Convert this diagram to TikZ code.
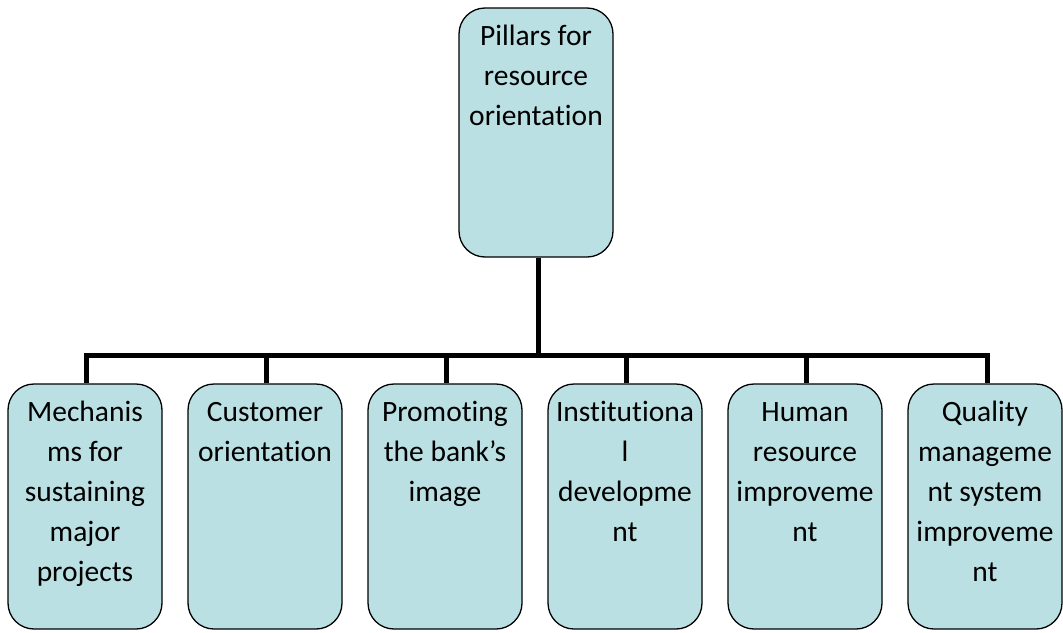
\documentclass[tikz,border=0pt]{standalone}
\usepackage{fontspec}
\setmainfont[Ligatures={NoCommon}]{Carlito}
\definecolor{boxfill}{RGB}{187,224,227}
% text block set from the top of a box, first baseline 37pt below its top edge
\newcommand\pillartext[2]{\parbox[t][#1][t]{150pt}{\centering\fontsize{29.5pt}{40pt}\selectfont\rule{0pt}{37pt}#2}}
\begin{document}
\begin{tikzpicture}[x=1pt,y=-1pt,
  pillar/.style={draw=black, line width=1.3pt, fill=boxfill, rounded corners=26pt,
    inner sep=0pt, minimum width=154pt, text=black},
  link/.style={draw=black, line width=5pt, line join=miter}]
\useasboundingbox (0,0) rectangle (1063,632);

% root box
\node[pillar, minimum height=249pt] (root) at (536,132.5)
  {\pillartext{249pt}{Pillars for\\resource\\orientation}};

% six pillars
\node[pillar, minimum height=245pt] (p1) at (85,506.5)
  {\pillartext{245pt}{Mechanis\\ms for\\sustaining\\major\\projects}};
\node[pillar, minimum height=245pt] (p2) at (265,506.5)
  {\pillartext{245pt}{Customer\\orientation}};
\node[pillar, minimum height=245pt] (p3) at (445,506.5)
  {\pillartext{245pt}{Promoting\\the bank’s\\image}};
\node[pillar, minimum height=245pt] (p4) at (625,506.5)
  {\pillartext{245pt}{Institutiona\\l\\developme\\nt}};
\node[pillar, minimum height=245pt] (p5) at (805,506.5)
  {\pillartext{245pt}{Human\\resource\\improveme\\nt}};
\node[pillar, minimum height=245pt] (p6) at (985,506.5)
  {\pillartext{245pt}{Quality\\manageme\\nt system\\improveme\\nt}};

% bus line
\coordinate (bus) at (536,355);
\draw[link] ([xshift=1pt]p1.north) -- ([xshift=1pt]p1.north |- bus)
  -- ([xshift=2pt]p6.north |- bus) -- ([xshift=2pt]p6.north);
\draw[link] ([xshift=2pt]root.south) -- ([xshift=2pt]root.south |- bus);
\foreach \p in {p2,p3,p4,p5}
  \draw[link] ([xshift=1pt]\p.north) -- ([xshift=1pt]\p.north |- bus);
\end{tikzpicture}
\end{document}
